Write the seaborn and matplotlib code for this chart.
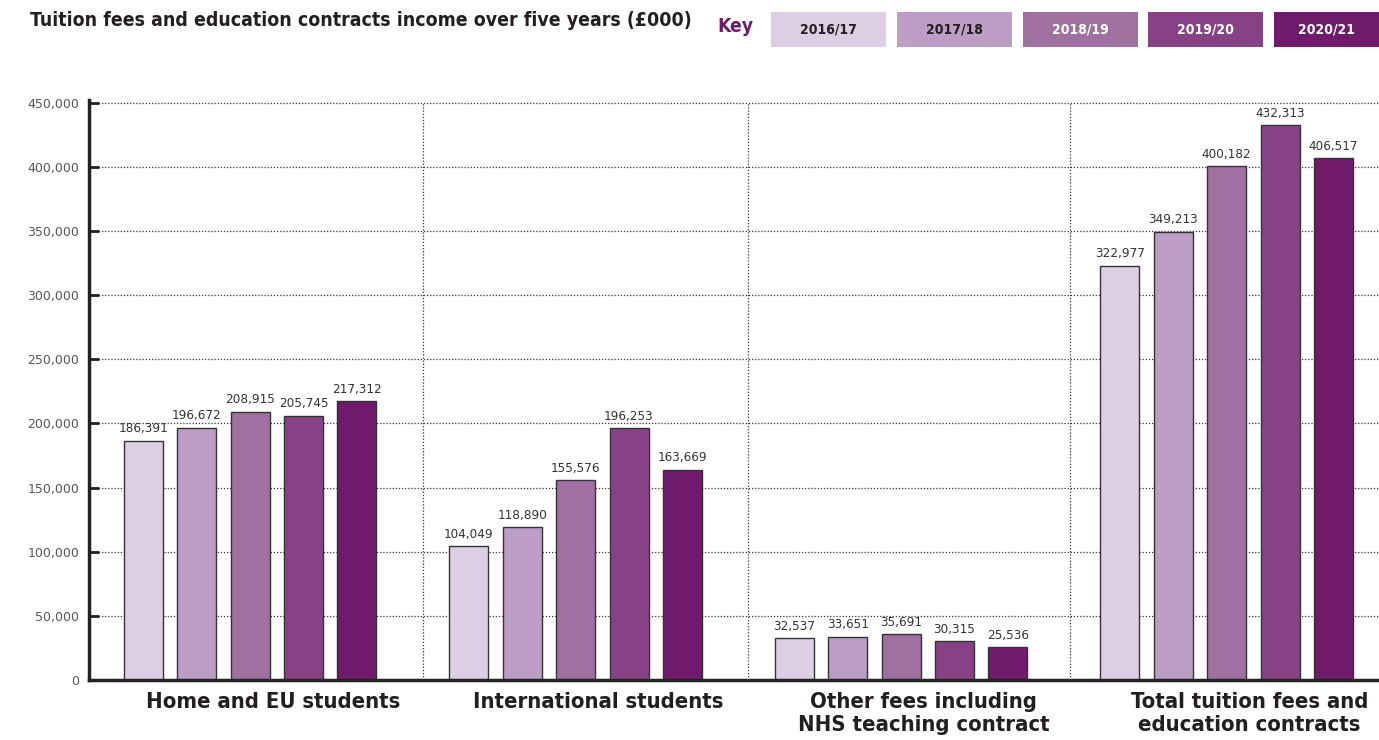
import matplotlib
matplotlib.use("Agg")
import matplotlib.pyplot as plt
from matplotlib.patches import Rectangle
from matplotlib.ticker import FuncFormatter, MultipleLocator
import seaborn as sns
import pandas as pd

categories = ["Home and EU students", "International students",
              "Other fees including\nNHS teaching contract",
              "Total tuition fees and\neducation contracts"]
years = ["2016/17", "2017/18", "2018/19", "2019/20", "2020/21"]
v_2016 = [186391, 104049, 32537, 322977]
v_2017 = [196672, 118890, 33651, 349213]
v_2018 = [208915, 155576, 35691, 400182]
v_2019 = [205745, 196253, 30315, 432313]
v_2020 = [217312, 163669, 25536, 406517]
colors = ["#dccfe3", "#bc9dc5", "#a070a0", "#874286", "#6f1a6b"]
legend_text_colors = ["#231f20", "#231f20", "#ffffff", "#ffffff", "#ffffff"]
title = "Tuition fees and education contracts income over five years (£000)"

series = [v_2016, v_2017, v_2018, v_2019, v_2020]
rows = []
for y, vals in zip(years, series):
    for c, v in zip(categories, vals):
        rows.append({"category": c, "year": y, "value": v})
df = pd.DataFrame(rows)

sns.set_theme(style="white")
plt.rcParams["font.family"] = ["DejaVu Sans"]
FAM = ["DejaVu Sans"]
ST = "condensed"

W, H = 1379, 740
fig = plt.figure(figsize=(W / 100, H / 100), dpi=100)
renderer = fig.canvas.get_renderer()


def fit_size(sample, target_w, weight="normal", base=20.0):
    t = fig.text(0, 0, sample, fontsize=base, fontweight=weight,
                 family=FAM, fontstretch=ST)
    w = t.get_window_extent(renderer).width
    t.remove()
    return base * target_w / w


title_fs = fit_size(title, 662, "bold")
key_fs = fit_size("Key", 36, "bold")
leg_fs = fit_size("2016/17", 57, "bold")
val_fs = fit_size("186,391", 50, "normal")
cat_fs = fit_size("Home and EU students", 254, "bold")

ax = fig.add_axes([89 / W, 1 - 680 / H, 1 - 89 / W, (680 - 100) / H])

sns.barplot(data=df, x="category", y="value", hue="year", order=categories,
            hue_order=years, palette=colors, width=0.82, gap=0.27,
            edgecolor="#333333", linewidth=1.0, legend=False, ax=ax,
            saturation=1)

for cont in ax.containers:
    ax.bar_label(cont, labels=[f"{v:,.0f}" for v in cont.datavalues],
                 padding=4, fontsize=val_fs, color="#333333", family=FAM,
                 fontstretch=ST)

ax.set_xlim(-0.495, 3.468)
ax.set_ylim(0, 452000)
ax.yaxis.set_major_locator(MultipleLocator(50000))
ax.yaxis.set_major_formatter(FuncFormatter(lambda v, p: f"{v:,.0f}"))
ax.tick_params(axis="y", direction="in", length=7, width=2, color="#222222",
               labelsize=9, labelcolor="#555555", pad=7, left=True)
ax.set_xticks([])
ax.set_xlabel("")
ax.set_ylabel("")

for yv in range(50000, 450001, 50000):
    ax.axhline(yv, color="#333333", lw=0.9, ls=(0, (1, 1.5)), zorder=0)
for i in range(len(categories) - 1):
    ax.plot([i + 0.53 - (0.01 if i == 2 else 0)] * 2, [0, 450000],
            color="#333333", lw=0.9, ls=(0, (1, 1.5)), zorder=0)

for s in ["top", "right"]:
    ax.spines[s].set_visible(False)
for s in ["left", "bottom"]:
    ax.spines[s].set_linewidth(2.5)
    ax.spines[s].set_color("#222222")

for i, c in enumerate(categories):
    ax.text(i + 0.07, -9500, c, ha="center", va="top", fontsize=cat_fs,
            fontweight="bold", color="#231f20", family=FAM, fontstretch=ST,
            linespacing=1.15)

fig.text(30 / W, 1 - 20 / H, title, ha="left", va="center", fontsize=title_fs,
         fontweight="bold", color="#231f20", family=FAM, fontstretch=ST)
fig.text(717 / W, 1 - 27 / H, "Key", ha="left", va="center", fontsize=key_fs,
         fontweight="bold", color="#6f1a6b", family=FAM, fontstretch=ST)

bx0, bstep, bw = 771, 125.8, 115
for i, (y, col, tc) in enumerate(zip(years, colors, legend_text_colors)):
    x0 = bx0 + i * bstep
    wdt = min(bw, W - x0)
    fig.patches.append(Rectangle((x0 / W, 1 - 47 / H), wdt / W, 35 / H,
                                 transform=fig.transFigure, facecolor=col,
                                 edgecolor="none"))
    fig.text((x0 + wdt / 2) / W, 1 - 29.5 / H, y, ha="center", va="center",
             fontsize=leg_fs, fontweight="bold", color=tc, family=FAM,
             fontstretch=ST)

fig.savefig("out.png", dpi=100)
